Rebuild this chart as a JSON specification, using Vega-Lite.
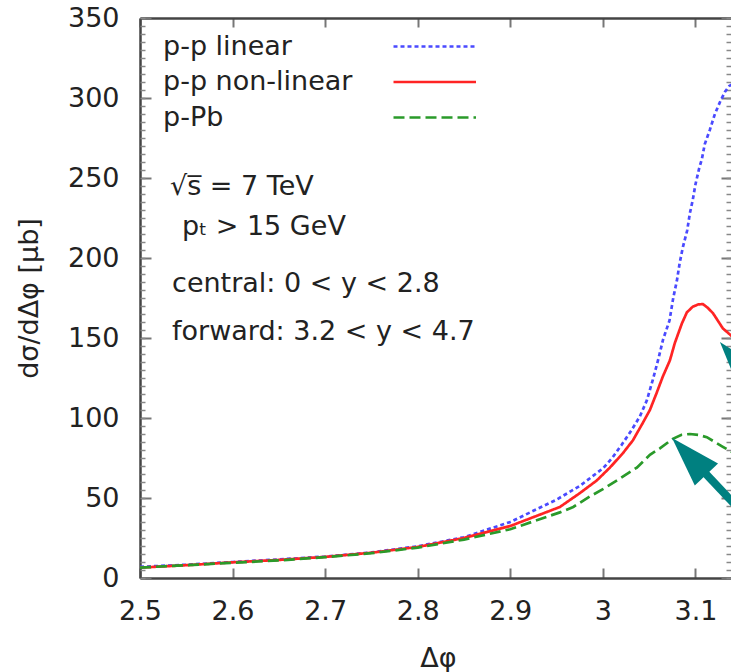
{
  "$schema": "https://vega.github.io/schema/vega-lite/v6.json",
  "width": 591,
  "height": 560,
  "autosize": "none",
  "padding": {"left": 140, "top": 18, "right": 0, "bottom": 94},
  "background": "white",
  "config": {"view": {"stroke": null}, "font": "DejaVu Sans"},
  "datasets": {
    "curves": [
      {"series": "p-p linear", "dphi": 2.5, "sigma": 7},
      {"series": "p-p linear", "dphi": 2.55, "sigma": 8.3},
      {"series": "p-p linear", "dphi": 2.6, "sigma": 10},
      {"series": "p-p linear", "dphi": 2.65, "sigma": 11.6},
      {"series": "p-p linear", "dphi": 2.7, "sigma": 13.4},
      {"series": "p-p linear", "dphi": 2.75, "sigma": 16},
      {"series": "p-p linear", "dphi": 2.8, "sigma": 19.8},
      {"series": "p-p linear", "dphi": 2.85, "sigma": 25.5},
      {"series": "p-p linear", "dphi": 2.9, "sigma": 35},
      {"series": "p-p linear", "dphi": 2.95, "sigma": 49},
      {"series": "p-p linear", "dphi": 2.975, "sigma": 57.5},
      {"series": "p-p linear", "dphi": 3.0, "sigma": 68.5},
      {"series": "p-p linear", "dphi": 3.01, "sigma": 75},
      {"series": "p-p linear", "dphi": 3.02, "sigma": 83},
      {"series": "p-p linear", "dphi": 3.03, "sigma": 91.5},
      {"series": "p-p linear", "dphi": 3.04, "sigma": 101},
      {"series": "p-p linear", "dphi": 3.0475, "sigma": 111},
      {"series": "p-p linear", "dphi": 3.054, "sigma": 124},
      {"series": "p-p linear", "dphi": 3.06, "sigma": 137},
      {"series": "p-p linear", "dphi": 3.065, "sigma": 149},
      {"series": "p-p linear", "dphi": 3.072, "sigma": 161},
      {"series": "p-p linear", "dphi": 3.076, "sigma": 175},
      {"series": "p-p linear", "dphi": 3.08, "sigma": 186},
      {"series": "p-p linear", "dphi": 3.083, "sigma": 197},
      {"series": "p-p linear", "dphi": 3.0865, "sigma": 207},
      {"series": "p-p linear", "dphi": 3.091, "sigma": 217},
      {"series": "p-p linear", "dphi": 3.094, "sigma": 228},
      {"series": "p-p linear", "dphi": 3.097, "sigma": 236},
      {"series": "p-p linear", "dphi": 3.1, "sigma": 246},
      {"series": "p-p linear", "dphi": 3.104, "sigma": 256},
      {"series": "p-p linear", "dphi": 3.107, "sigma": 262},
      {"series": "p-p linear", "dphi": 3.11, "sigma": 271},
      {"series": "p-p linear", "dphi": 3.1155, "sigma": 280},
      {"series": "p-p linear", "dphi": 3.121, "sigma": 290},
      {"series": "p-p linear", "dphi": 3.1265, "sigma": 297.5},
      {"series": "p-p linear", "dphi": 3.132, "sigma": 304},
      {"series": "p-p linear", "dphi": 3.1365, "sigma": 307.5},
      {"series": "p-p linear", "dphi": 3.1416, "sigma": 309},
      {"series": "p-p non-linear", "dphi": 2.5, "sigma": 6.5},
      {"series": "p-p non-linear", "dphi": 2.55, "sigma": 8},
      {"series": "p-p non-linear", "dphi": 2.6, "sigma": 9.8},
      {"series": "p-p non-linear", "dphi": 2.65, "sigma": 11.3},
      {"series": "p-p non-linear", "dphi": 2.7, "sigma": 13.2},
      {"series": "p-p non-linear", "dphi": 2.75, "sigma": 15.8},
      {"series": "p-p non-linear", "dphi": 2.8, "sigma": 19.4},
      {"series": "p-p non-linear", "dphi": 2.85, "sigma": 25},
      {"series": "p-p non-linear", "dphi": 2.9, "sigma": 32.5},
      {"series": "p-p non-linear", "dphi": 2.9536, "sigma": 44.4},
      {"series": "p-p non-linear", "dphi": 2.975, "sigma": 53},
      {"series": "p-p non-linear", "dphi": 2.9935, "sigma": 61},
      {"series": "p-p non-linear", "dphi": 3.0076, "sigma": 69},
      {"series": "p-p non-linear", "dphi": 3.0216, "sigma": 78},
      {"series": "p-p non-linear", "dphi": 3.0324, "sigma": 86},
      {"series": "p-p non-linear", "dphi": 3.0432, "sigma": 97},
      {"series": "p-p non-linear", "dphi": 3.0508, "sigma": 105},
      {"series": "p-p non-linear", "dphi": 3.0583, "sigma": 116},
      {"series": "p-p non-linear", "dphi": 3.0648, "sigma": 126},
      {"series": "p-p non-linear", "dphi": 3.0724, "sigma": 136},
      {"series": "p-p non-linear", "dphi": 3.0778, "sigma": 147},
      {"series": "p-p non-linear", "dphi": 3.0853, "sigma": 159},
      {"series": "p-p non-linear", "dphi": 3.0907, "sigma": 166},
      {"series": "p-p non-linear", "dphi": 3.097, "sigma": 169.5},
      {"series": "p-p non-linear", "dphi": 3.103, "sigma": 171},
      {"series": "p-p non-linear", "dphi": 3.108, "sigma": 171.2},
      {"series": "p-p non-linear", "dphi": 3.113, "sigma": 169},
      {"series": "p-p non-linear", "dphi": 3.1188, "sigma": 165.6},
      {"series": "p-p non-linear", "dphi": 3.124, "sigma": 161},
      {"series": "p-p non-linear", "dphi": 3.1296, "sigma": 156},
      {"series": "p-p non-linear", "dphi": 3.1416, "sigma": 150},
      {"series": "p-Pb", "dphi": 2.5, "sigma": 6.5},
      {"series": "p-Pb", "dphi": 2.55, "sigma": 8},
      {"series": "p-Pb", "dphi": 2.6, "sigma": 9.5},
      {"series": "p-Pb", "dphi": 2.65, "sigma": 11},
      {"series": "p-Pb", "dphi": 2.7, "sigma": 13},
      {"series": "p-Pb", "dphi": 2.75, "sigma": 15.5},
      {"series": "p-Pb", "dphi": 2.8, "sigma": 19},
      {"series": "p-Pb", "dphi": 2.85, "sigma": 24},
      {"series": "p-Pb", "dphi": 2.9, "sigma": 30.5},
      {"series": "p-Pb", "dphi": 2.9536, "sigma": 41},
      {"series": "p-Pb", "dphi": 2.968, "sigma": 44.4},
      {"series": "p-Pb", "dphi": 2.986, "sigma": 51},
      {"series": "p-Pb", "dphi": 3.0, "sigma": 55.5},
      {"series": "p-Pb", "dphi": 3.018, "sigma": 62},
      {"series": "p-Pb", "dphi": 3.0367, "sigma": 69},
      {"series": "p-Pb", "dphi": 3.0508, "sigma": 77},
      {"series": "p-Pb", "dphi": 3.0616, "sigma": 81},
      {"series": "p-Pb", "dphi": 3.0756, "sigma": 87},
      {"series": "p-Pb", "dphi": 3.085, "sigma": 89.5},
      {"series": "p-Pb", "dphi": 3.094, "sigma": 90},
      {"series": "p-Pb", "dphi": 3.103, "sigma": 89.5},
      {"series": "p-Pb", "dphi": 3.1123, "sigma": 88},
      {"series": "p-Pb", "dphi": 3.1296, "sigma": 82},
      {"series": "p-Pb", "dphi": 3.1416, "sigma": 78}
    ]
  },
  "resolve": {"axis": {"x": "independent", "y": "independent"}},
  "layer": [
    {
      "data": {"name": "curves"},
      "mark": {"type": "line", "clip": true, "strokeWidth": 2.7},
      "encoding": {
        "x": {"field": "dphi", "type": "quantitative",
          "scale": {"domain": [2.5, 3.1384], "nice": false, "zero": false},
          "axis": {"orient": "bottom", "values": [2.5, 2.6, 2.7, 2.8, 2.9, 3.0, 3.1], "format": "~g",
            "labelFont": "DejaVu Sans", "labelFontSize": 27, "labelColor": "#222", "labelPadding": 30,
            "labelFlush": false, "labelOverlap": false,
            "tickSize": -10, "tickColor": "#777", "tickWidth": 2,
            "domainColor": "#444", "domainWidth": 2.5, "grid": false,
            "title": "Δφ", "titleFont": "DejaVu Sans", "titleFontSize": 27, "titleFontWeight": "normal", "titleColor": "#222",
            "titleX": 298, "titleY": 80, "titleBaseline": "middle", "titleAlign": "center"}},
        "y": {"field": "sigma", "type": "quantitative",
          "scale": {"domain": [0, 350], "nice": false, "zero": false},
          "axis": {"orient": "left", "values": [0, 50, 100, 150, 200, 250, 300, 350],
            "labelFont": "DejaVu Sans", "labelFontSize": 27, "labelColor": "#222", "labelPadding": 32,
            "labelOverlap": false,
            "tickSize": -11, "tickColor": "#777", "tickWidth": 2,
            "domainColor": "#444", "domainWidth": 2.5, "grid": false,
            "title": "dσ/dΔφ [μb]", "titleFont": "DejaVu Sans", "titleFontSize": 27, "titleFontWeight": "normal", "titleColor": "#222",
            "titleX": -111, "titleY": 280, "titleAngle": 270, "titleBaseline": "middle", "titleAlign": "center"}},
        "color": {"field": "series", "type": "nominal",
          "scale": {"domain": ["p-p linear", "p-p non-linear", "p-Pb"], "range": ["#4a4aff", "#ff2424", "#2a9a2a"]},
          "legend": {"title": null, "orient": "none", "legendX": 276.75, "legendY": 10.5, "padding": 0,
            "symbolType": "M-2.5,0L2.5,0", "symbolSize": 1089, "symbolStrokeWidth": 2.7,
            "labelFont": "DejaVu Sans", "labelFontSize": 27, "labelColor": "#222", "labelAlign": "left",
            "labelOffset": -289.75, "rowPadding": 4.5, "labelLimit": 400}},
        "strokeDash": {"field": "series", "type": "nominal",
          "scale": {"domain": ["p-p linear", "p-p non-linear", "p-Pb"], "range": [[4, 3], [1, 0], [11, 5]]},
          "legend": {"title": null, "orient": "none", "legendX": 276.75, "legendY": 10.5, "padding": 0,
            "symbolType": "M-2.5,0L2.5,0", "symbolSize": 1089, "symbolStrokeWidth": 2.7,
            "labelFont": "DejaVu Sans", "labelFontSize": 27, "labelColor": "#222", "labelAlign": "left",
            "labelOffset": -289.75, "rowPadding": 4.5, "labelLimit": 400}}
      }
    },
    {
      "data": {"values": [{}]},
      "mark": {"type": "text", "text": "√s̅ = 7 TeV", "align": "left", "baseline": "alphabetic", "font": "DejaVu Sans", "fontSize": 27, "color": "#222"},
      "encoding": {
        "x": {"datum": 2.5324, "type": "quantitative", "scale": {"domain": [2.5, 3.1384], "nice": false, "zero": false},
          "axis": {"orient": "top", "values": [2.5, 2.6, 2.7, 2.8, 2.9, 3.0, 3.1], "labels": false, "title": null,
            "tickSize": -9, "tickColor": "#777", "tickWidth": 2, "domainColor": "#444", "domainWidth": 2.5, "grid": false}},
        "y": {"datum": 239.4, "type": "quantitative", "scale": {"domain": [0, 350], "nice": false, "zero": false},
          "axis": {"orient": "left", "values": [0,5,10,15,20,25,30,35,40,45,50,55,60,65,70,75,80,85,90,95,100,105,110,115,120,125,130,135,140,145,150,155,160,165,170,175,180,185,190,195,200,205,210,215,220,225,230,235,240,245,250,255,260,265,270,275,280,285,290,295,300,305,310,315,320,325,330,335,340,345,350],
            "labels": false, "title": null, "domain": false, "grid": false, "tickSize": -5, "tickColor": "#888", "tickWidth": 1.5}}
      }
    },
    {
      "data": {"values": [{}]},
      "mark": {"type": "text", "text": "pₜ > 15 GeV", "align": "left", "baseline": "alphabetic", "font": "DejaVu Sans", "fontSize": 27, "color": "#222"},
      "encoding": {
        "x": {"datum": 2.5454, "type": "quantitative", "scale": {"domain": [2.5, 3.1384], "nice": false, "zero": false}, "axis": null},
        "y": {"datum": 214.4, "type": "quantitative", "scale": {"domain": [0, 350], "nice": false, "zero": false},
          "axis": {"orient": "right", "values": [0, 50, 100, 150, 200, 250, 300, 350], "labels": false, "title": null, "domain": false, "grid": false,
            "tickSize": -10, "tickColor": "#777", "tickWidth": 2}}
      }
    },
    {
      "data": {"values": [{}]},
      "mark": {"type": "text", "text": "central: 0 < y < 2.8", "align": "left", "baseline": "alphabetic", "font": "DejaVu Sans", "fontSize": 27, "color": "#222"},
      "encoding": {
        "x": {"datum": 2.5346, "type": "quantitative", "scale": {"domain": [2.5, 3.1384], "nice": false, "zero": false}, "axis": null},
        "y": {"datum": 178.75, "type": "quantitative", "scale": {"domain": [0, 350], "nice": false, "zero": false},
          "axis": {"orient": "right", "values": [0,5,10,15,20,25,30,35,40,45,50,55,60,65,70,75,80,85,90,95,100,105,110,115,120,125,130,135,140,145,150,155,160,165,170,175,180,185,190,195,200,205,210,215,220,225,230,235,240,245,250,255,260,265,270,275,280,285,290,295,300,305,310,315,320,325,330,335,340,345,350],
            "labels": false, "title": null, "domain": false, "grid": false, "tickSize": -5, "tickColor": "#888", "tickWidth": 1.5}}
      }
    },
    {
      "data": {"values": [{}]},
      "mark": {"type": "text", "text": "forward: 3.2 < y < 4.7", "align": "left", "baseline": "alphabetic", "font": "DejaVu Sans", "fontSize": 27, "color": "#222"},
      "encoding": {
        "x": {"datum": 2.5346, "type": "quantitative", "scale": {"domain": [2.5, 3.1384], "nice": false, "zero": false}, "axis": null},
        "y": {"datum": 148.75, "type": "quantitative", "scale": {"domain": [0, 350], "nice": false, "zero": false}, "axis": null}
      }
    },
    {
      "data": {"values": [{}]},
      "mark": {"type": "rule", "clip": true, "color": "#008080", "strokeWidth": 8},
      "encoding": {
        "x": {"datum": 3.1438, "type": "quantitative", "scale": {"domain": [2.5, 3.1384], "nice": false, "zero": false}, "axis": null},
        "y": {"datum": 135.6, "type": "quantitative", "scale": {"domain": [0, 350], "nice": false, "zero": false}, "axis": null},
        "x2": {"datum": 3.2519},
        "y2": {"datum": 61}
      }
    },
    {
      "data": {"values": [{}]},
      "mark": {"type": "rule", "clip": true, "color": "#008080", "strokeWidth": 8},
      "encoding": {
        "x": {"datum": 3.0933, "type": "quantitative", "scale": {"domain": [2.5, 3.1384], "nice": false, "zero": false}, "axis": null},
        "y": {"datum": 76.1, "type": "quantitative", "scale": {"domain": [0, 350], "nice": false, "zero": false}, "axis": null},
        "x2": {"datum": 3.2011},
        "y2": {"datum": 10}
      }
    },
    {
      "data": {"values": [{}]},
      "mark": {"type": "point", "clip": true, "filled": true, "color": "#008080", "opacity": 1, "shape": "M0,-1L0.64,1L-0.64,1Z", "size": 2500, "angle": 320},
      "encoding": {
        "x": {"datum": 3.1438, "type": "quantitative", "scale": {"domain": [2.5, 3.1384], "nice": false, "zero": false}, "axis": null},
        "y": {"datum": 135.6, "type": "quantitative", "scale": {"domain": [0, 350], "nice": false, "zero": false}, "axis": null}
      }
    },
    {
      "data": {"values": [{}]},
      "mark": {"type": "point", "clip": true, "filled": true, "color": "#008080", "opacity": 1, "shape": "M0,-1L0.64,1L-0.64,1Z", "size": 2500, "angle": 316.6},
      "encoding": {
        "x": {"datum": 3.0933, "type": "quantitative", "scale": {"domain": [2.5, 3.1384], "nice": false, "zero": false}, "axis": null},
        "y": {"datum": 76.1, "type": "quantitative", "scale": {"domain": [0, 350], "nice": false, "zero": false}, "axis": null}
      }
    }
  ]
}
